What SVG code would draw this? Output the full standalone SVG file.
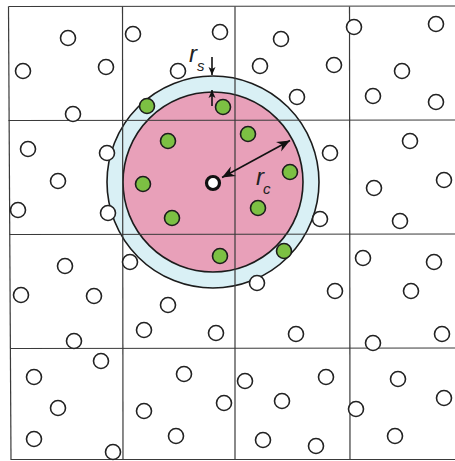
<svg xmlns="http://www.w3.org/2000/svg" width="455" height="461" viewBox="0 0 455 461">
<style>
.grid{stroke:#3a3a3a;stroke-width:1.2;fill:none}
.p{fill:#fff;stroke:#222;stroke-width:1.6}
.g{fill:#7cc043;stroke:#1c1c1c;stroke-width:1.6}
.lbl{font-family:"Liberation Sans",Arial,sans-serif;font-style:italic;fill:#222}
.arr{stroke:#111;stroke-width:1.6;fill:none}
</style>
<defs>
<marker id="ah" viewBox="-13 -6 14 12" refX="0" refY="0" markerWidth="14" markerHeight="12" markerUnits="userSpaceOnUse" orient="auto-start-reverse">
<path d="M0,0 L-13,-5.5 L-9,0 L-13,5.5 Z" fill="#111"/>
</marker>
<marker id="ahs" viewBox="-8 -4 9 8" refX="0" refY="0" markerWidth="9" markerHeight="8" markerUnits="userSpaceOnUse" orient="auto">
<path d="M0,0 L-8,-3.5 L-6,0 L-8,3.5 Z" fill="#111"/>
</marker>
</defs>
<rect width="455" height="461" fill="#fff"/>
<g id="shell">
<circle cx="213" cy="182" r="106" fill="#d9f0f5" stroke="#1c1c1c" stroke-width="1.6"/>
<circle cx="213" cy="182" r="90" fill="#e8a0b9" stroke="#1c1c1c" stroke-width="1.6"/>
</g>
<g id="grid" class="grid">
<line x1="8.5" y1="6.5" x2="11" y2="460"/>
<line x1="122.5" y1="6.5" x2="123" y2="460"/>
<line x1="235" y1="6.5" x2="235" y2="460"/>
<line x1="349.5" y1="6.5" x2="350" y2="460"/>
<line x1="8.5" y1="6.5" x2="455" y2="6"/>
<line x1="8.5" y1="120.5" x2="455" y2="120"/>
<line x1="9.5" y1="234.5" x2="455" y2="234"/>
<line x1="10" y1="348.5" x2="455" y2="348"/>
<line x1="11" y1="459.5" x2="455" y2="459.5"/>
</g>
<g id="particles">
<circle class="p" cx="68" cy="38" r="7.5"/>
<circle class="p" cx="133" cy="34" r="7.5"/>
<circle class="p" cx="220" cy="32" r="7.5"/>
<circle class="p" cx="23" cy="71" r="7.5"/>
<circle class="p" cx="106" cy="67" r="7.5"/>
<circle class="p" cx="178" cy="71" r="7.5"/>
<circle class="p" cx="73" cy="114" r="7.5"/>
<circle class="p" cx="281" cy="39" r="7.5"/>
<circle class="p" cx="260" cy="66" r="7.5"/>
<circle class="p" cx="334" cy="65" r="7.5"/>
<circle class="p" cx="297" cy="97" r="7.5"/>
<circle class="p" cx="354" cy="27" r="7.5"/>
<circle class="p" cx="436" cy="24" r="7.5"/>
<circle class="p" cx="402" cy="71" r="7.5"/>
<circle class="p" cx="373" cy="96" r="7.5"/>
<circle class="p" cx="436" cy="102" r="7.5"/>
<circle class="p" cx="28" cy="149" r="7.5"/>
<circle class="p" cx="107" cy="153" r="7.5"/>
<circle class="p" cx="58" cy="181" r="7.5"/>
<circle class="p" cx="18" cy="210" r="7.5"/>
<circle class="p" cx="108" cy="213" r="7.5"/>
<circle class="p" cx="330" cy="153" r="7.5"/>
<circle class="p" cx="410" cy="141" r="7.5"/>
<circle class="p" cx="444" cy="180" r="7.5"/>
<circle class="p" cx="374" cy="188" r="7.5"/>
<circle class="p" cx="400" cy="221" r="7.5"/>
<circle class="p" cx="320" cy="219" r="7.5"/>
<circle class="p" cx="65" cy="266" r="7.5"/>
<circle class="p" cx="21" cy="295" r="7.5"/>
<circle class="p" cx="94" cy="296" r="7.5"/>
<circle class="p" cx="74" cy="341" r="7.5"/>
<circle class="p" cx="130" cy="262" r="7.5"/>
<circle class="p" cx="168" cy="305" r="7.5"/>
<circle class="p" cx="144" cy="330" r="7.5"/>
<circle class="p" cx="216" cy="333" r="7.5"/>
<circle class="p" cx="257" cy="283" r="7.5"/>
<circle class="p" cx="335" cy="291" r="7.5"/>
<circle class="p" cx="296" cy="334" r="7.5"/>
<circle class="p" cx="363" cy="258" r="7.5"/>
<circle class="p" cx="434" cy="262" r="7.5"/>
<circle class="p" cx="411" cy="291" r="7.5"/>
<circle class="p" cx="373" cy="343" r="7.5"/>
<circle class="p" cx="442" cy="334" r="7.5"/>
<circle class="p" cx="101" cy="361" r="7.5"/>
<circle class="p" cx="34" cy="377" r="7.5"/>
<circle class="p" cx="58" cy="408" r="7.5"/>
<circle class="p" cx="34" cy="439" r="7.5"/>
<circle class="p" cx="113" cy="452" r="7.5"/>
<circle class="p" cx="184" cy="374" r="7.5"/>
<circle class="p" cx="144" cy="411" r="7.5"/>
<circle class="p" cx="176" cy="436" r="7.5"/>
<circle class="p" cx="224" cy="403" r="7.5"/>
<circle class="p" cx="326" cy="377" r="7.5"/>
<circle class="p" cx="245" cy="381" r="7.5"/>
<circle class="p" cx="282" cy="401" r="7.5"/>
<circle class="p" cx="263" cy="440" r="7.5"/>
<circle class="p" cx="316" cy="446" r="7.5"/>
<circle class="p" cx="398" cy="379" r="7.5"/>
<circle class="p" cx="444" cy="398" r="7.5"/>
<circle class="p" cx="356" cy="409" r="7.5"/>
<circle class="p" cx="395" cy="436" r="7.5"/>
</g>
<g id="neighbours">
<circle class="g" cx="147" cy="106" r="7.5"/>
<circle class="g" cx="223" cy="107" r="7.5"/>
<circle class="g" cx="168" cy="141" r="7.5"/>
<circle class="g" cx="248" cy="134" r="7.5"/>
<circle class="g" cx="143" cy="184" r="7.5"/>
<circle class="g" cx="290" cy="172" r="7.5"/>
<circle class="g" cx="258" cy="208" r="7.5"/>
<circle class="g" cx="172" cy="218" r="7.5"/>
<circle class="g" cx="220" cy="256" r="7.5"/>
<circle class="g" cx="284" cy="251" r="7.5"/>
</g>
<g id="centre">
<circle cx="213" cy="183" r="6.5" fill="#fff" stroke="#111" stroke-width="3.2"/>
</g>
<g id="connectors">
<line class="arr" x1="222" y1="177.5" x2="290" y2="140.5" marker-start="url(#ah)" marker-end="url(#ah)"/>
<line class="arr" x1="212" y1="57" x2="212" y2="75" marker-end="url(#ahs)"/>
<line class="arr" x1="212" y1="106" x2="212" y2="90" marker-end="url(#ahs)"/>
</g>
<g id="labels">
<text class="lbl" x="189" y="62" font-size="24">r</text>
<text class="lbl" x="197" y="71" font-size="15">s</text>
<text class="lbl" x="256" y="185" font-size="24">r</text>
<text class="lbl" x="263" y="194" font-size="15">c</text>
</g>
</svg>
